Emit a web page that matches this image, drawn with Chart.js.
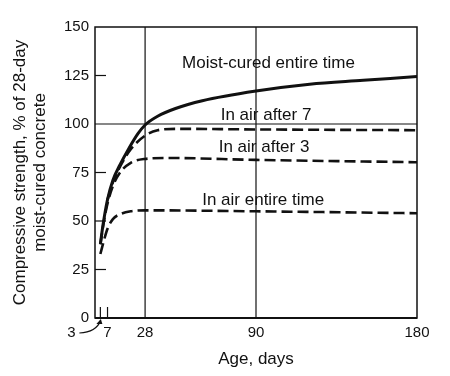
<!DOCTYPE html>
<html>
<head>
<meta charset="utf-8">
<script src="https://cdn.jsdelivr.net/npm/chart.js@4.4.1/dist/chart.umd.min.js"></script>
<style>
  html, body { margin: 0; padding: 0; background: #fff; }
  #wrap { width: 450px; height: 376px; position: relative; }
</style>
</head>
<body>
<div id="wrap"><canvas id="grafico"></canvas></div>
<script>
// curve data
const moistAge = [3, 4, 5, 7, 10, 14, 19, 24, 28, 35, 45, 60, 90, 120, 150, 180];
const moistVal = [38, 45, 51, 61, 71, 79, 87.5, 95, 99.5, 104, 108, 112, 117, 120.5, 122.5, 124.5];

const air7Age = [7, 10, 14, 20, 28, 35, 45, 90, 180];
const air7Val = [61, 70, 78, 87, 94, 96.8, 97.5, 97.2, 96.8];

const air3Age = [3, 5, 7, 10, 14, 20, 28, 40, 90, 180];
const air3Val = [38, 50, 59, 68, 75, 80, 82, 82.5, 81.5, 80.3];

const airAge = [3, 5, 7, 10, 14, 20, 28, 90, 180];
const airVal = [33, 40, 46, 51, 53.5, 55, 55.5, 55, 54];

const xTicks = [3, 7, 28, 90, 180];
const yTicks = [0, 25, 50, 75, 100, 125, 150];

const curveLabels = ['Moist-cured entire time', 'In air after 7', 'In air after 3', 'In air entire time'];
const labelAnchors = [[97, 131.5], [95.6, 104.6], [94.5, 88], [94, 60.8]];

const FONT = "'Liberation Sans', Arial, Helvetica, sans-serif";
const INK = '#111';

function pts(a, v) {
  return a.map((x, i) => ({ x: x, y: v[i] }));
}

const frame = {
  id: 'frame',
  beforeDatasetsDraw(chart) {
    const { ctx, chartArea: ca, scales: { x, y } } = chart;
    ctx.save();
    ctx.strokeStyle = INK;
    // box
    ctx.lineWidth = 1.5;
    ctx.strokeRect(ca.left, ca.top, ca.right - ca.left, ca.bottom - ca.top);
    ctx.lineWidth = 2;
    ctx.beginPath();
    ctx.moveTo(ca.left, ca.bottom);
    ctx.lineTo(ca.right, ca.bottom);
    ctx.stroke();
    // vertical lines at 28 and 90
    ctx.lineWidth = 1.2;
    [28, 90].forEach(v => {
      const px = x.getPixelForValue(v);
      ctx.beginPath();
      ctx.moveTo(px, ca.top);
      ctx.lineTo(px, ca.bottom);
      ctx.stroke();
    });
    // 100 line across
    ctx.beginPath();
    ctx.moveTo(ca.left, y.getPixelForValue(100));
    ctx.lineTo(ca.right, y.getPixelForValue(100));
    ctx.stroke();
    // short inward y ticks
    [25, 50, 75, 125].forEach(v => {
      const py = y.getPixelForValue(v);
      ctx.beginPath();
      ctx.moveTo(ca.left, py);
      ctx.lineTo(ca.left + 11, py);
      ctx.stroke();
    });
    // short x ticks at 3 and 7
    [3, 7].forEach(v => {
      const px = x.getPixelForValue(v);
      ctx.beginPath();
      ctx.moveTo(px, ca.bottom);
      ctx.lineTo(px, ca.bottom - 11);
      ctx.stroke();
    });
    ctx.restore();
  },
  afterDatasetsDraw(chart) {
    const { ctx, chartArea: ca, scales: { x, y } } = chart;
    ctx.save();
    ctx.fillStyle = INK;
    ctx.font = '17px ' + FONT;
    ctx.textAlign = 'center';
    ctx.textBaseline = 'middle';
    curveLabels.forEach((t, i) => {
      ctx.fillText(t, x.getPixelForValue(labelAnchors[i][0]), y.getPixelForValue(labelAnchors[i][1]));
    });
    // "3" label with curved arrow to its tick
    const p3 = x.getPixelForValue(3);
    ctx.font = '15px ' + FONT;
    ctx.fillText('3', p3 - 29, ca.bottom + 15);
    ctx.strokeStyle = INK;
    ctx.lineWidth = 1.2;
    ctx.beginPath();
    ctx.moveTo(p3 - 21, ca.bottom + 15);
    ctx.quadraticCurveTo(p3 - 4, ca.bottom + 14, p3, ca.bottom + 3);
    ctx.stroke();
    ctx.beginPath();
    ctx.moveTo(p3 + 0.5, ca.bottom + 1);
    ctx.lineTo(p3 - 4, ca.bottom + 6);
    ctx.lineTo(p3 + 2, ca.bottom + 6);
    ctx.closePath();
    ctx.fill();
    ctx.restore();
  }
};

const ctx = document.getElementById('grafico').getContext('2d');
new Chart(ctx, {
  type: 'line',
  data: {
    datasets: [
      { label: 'Moist-cured entire time', data: pts(moistAge, moistVal), borderColor: INK, borderWidth: 3, borderDash: [] },
      { label: 'In air after 7', data: pts(air7Age, air7Val), borderColor: INK, borderWidth: 2.6, borderDash: [11, 5] },
      { label: 'In air after 3', data: pts(air3Age, air3Val), borderColor: INK, borderWidth: 2.6, borderDash: [11, 5] },
      { label: 'In air entire time', data: pts(airAge, airVal), borderColor: INK, borderWidth: 2.6, borderDash: [11, 5] }
    ]
  },
  options: {
    responsive: true,
    maintainAspectRatio: false,
    animation: false,
    cubicInterpolationMode: 'monotone',
    elements: { point: { radius: 0 } },
    layout: { padding: { top: 27, right: 33, left: 0, bottom: 0 } },
    plugins: {
      legend: { display: false },
      tooltip: { enabled: false }
    },
    scales: {
      x: {
        type: 'linear',
        min: 0,
        max: 180,
        afterBuildTicks: s => { s.ticks = xTicks.map(v => ({ value: v })); },
        afterFit: s => { s.height = 58; },
        grid: { display: false, drawTicks: false },
        border: { display: false },
        ticks: {
          autoSkip: false,
          maxRotation: 0,
          padding: 6,
          color: INK,
          font: { family: FONT, size: 15 },
          callback: v => (v === 3 ? '' : v)
        },
        title: {
          display: true,
          text: 'Age, days',
          color: INK,
          font: { family: FONT, size: 17 },
          padding: { top: 0, bottom: 6 }
        }
      },
      y: {
        min: 0,
        max: 150,
        afterBuildTicks: s => { s.ticks = yTicks.map(v => ({ value: v })); },
        afterFit: s => { s.width = 95; },
        grid: { display: false, drawTicks: false },
        border: { display: false },
        ticks: {
          padding: 6,
          color: INK,
          font: { family: FONT, size: 15 }
        },
        title: {
          display: true,
          text: ['Compressive strength, % of 28-day', 'moist-cured concrete'],
          color: INK,
          font: { family: FONT, size: 17 },
          padding: { top: 10, bottom: 0 }
        }
      }
    }
  },
  plugins: [frame]
});
</script>
</body>
</html>
